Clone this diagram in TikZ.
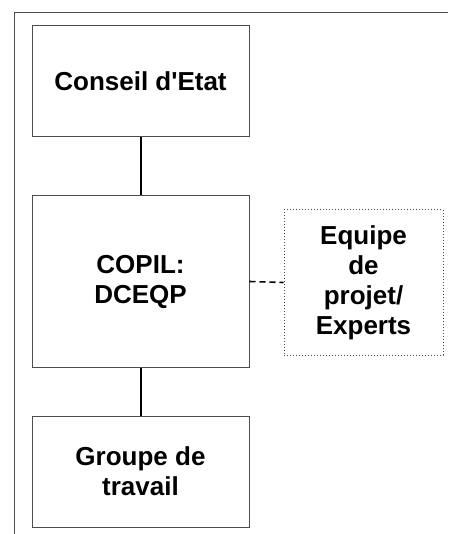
\documentclass[tikz,border=0pt]{standalone}
\usepackage{fontspec}
\setmainfont{Liberation Sans}
\begin{document}
\begin{tikzpicture}[x=1pt,y=1pt,
  orgbox/.style={draw=black!70, line width=1pt, minimum width=217pt, align=center,
    font=\bfseries\fontsize{26}{30}\selectfont, inner sep=0pt},
  helpbox/.style={draw=black!70, line width=1pt, dotted, align=center,
    minimum width=159pt, minimum height=145pt,
    font=\bfseries\fontsize{26}{30}\selectfont, inner sep=0pt},
  link/.style={line width=2pt, black}]
\useasboundingbox (0,0) rectangle (448,-534);
% outer frame (left and top edges)
\draw[black!70, line width=1pt] (14,-534) -- (14,-12.5) -- (448,-12.5);
\node[orgbox, minimum height=111pt] (ce) at (140.5,-81.5) {Conseil d\textquotesingle Etat};
\node[orgbox, minimum height=171pt] (copil) at (140.5,-281.5) {COPIL:\\DCEQP};
\node[orgbox, minimum height=111pt] (gt) at (140.5,-471.5) {Groupe de\\travail};
\node[helpbox] (exp) at (363.5,-282.5) {Equipe\\de\\projet/\\Experts};
\draw[link] (ce) -- (copil);
\draw[link] (copil) -- (gt);
\draw[line width=1.6pt, dash pattern=on 6pt off 4pt] (copil.east) -- (exp.west);
\end{tikzpicture}
\end{document}
